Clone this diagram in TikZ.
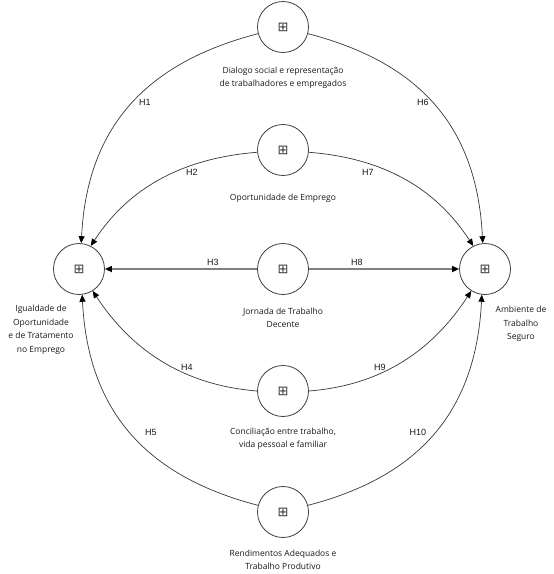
\documentclass[tikz,border=0pt]{standalone}
\usepackage{fontspec}
\setmainfont{Open Sans}
\newfontfamily\symfont{DejaVu Sans}
\newfontfamily\hfont{Liberation Sans}
\usetikzlibrary{arrows.meta}
\begin{document}
\begin{tikzpicture}[x=1pt,y=-1pt,
  construct/.style={circle, draw=black!75, line width=0.8pt, minimum size=51pt, inner sep=0pt,
    font=\symfont\fontsize{13}{13}\selectfont, text=black!80},
  lbl/.style={font=\fontsize{8.5}{13.5}\selectfont, align=center, text=black!90},
  hyp/.style={font=\hfont\fontsize{9}{10}\selectfont, text=black!90, inner sep=0pt},
  arr/.style={draw=black!78, line width=0.7pt, -{Triangle[length=7pt,width=6pt,color=black]}},
  straightarr/.style={draw=black!50, line width=1.6pt, -{Triangle[length=7pt,width=6pt,color=black]}}
]
\useasboundingbox (0,0) rectangle (554,574);
\fill[white] (0,0) rectangle (554,574);

\node[construct] (n1) at (283,27) {⊞};
\node[construct] (n2) at (283,150) {⊞};
\node[construct] (n3) at (283,269) {⊞};
\node[construct] (n4) at (283,391) {⊞};
\node[construct] (n5) at (283,512) {⊞};
\node[construct] (L) at (79,269) {⊞};
\node[construct] (R) at (485,269) {⊞};

\node[lbl] (t1) at (283,78) {Dialogo social e representação\\de trabalhadores e empregados};
\node[lbl] (t2) at (283,198) {Oportunidade de Emprego};
\node[lbl] (t3) at (283,318) {Jornada de Trabalho\\Decente};
\node[lbl] (t4) at (283,439) {Conciliação entre trabalho,\\vida pessoal e familiar};
\node[lbl] (t5) at (283,560) {Rendimentos Adequados e\\Trabalho Produtivo};
\node[lbl] (tl) at (41,330) {Igualdade de\\Oportunidade\\e de Tratamento\\no Emprego};
\node[lbl] (tr) at (521,324) {Ambiente de\\Trabalho\\Seguro};

\draw[arr] (n1.195) .. controls +(-108,28) and +(6,-120) .. (L.85);
\draw[arr] (n2.185) .. controls +(-75,6) and +(38,-58) .. (L.63);
\draw[straightarr] (n3.west) -- (L.east);
\draw[arr] (n4.180) .. controls +(-75,-6) and +(38,58) .. (L.302);
\draw[arr] (n5.165) .. controls +(-108,-28) and +(6,120) .. (L.277);
\draw[arr] (n1.345) .. controls +(108,28) and +(-6,-120) .. (R.95);
\draw[arr] (n2.355) .. controls +(75,6) and +(-38,-58) .. (R.117);
\draw[straightarr] (n3.east) -- (R.west);
\draw[arr] (n4.0) .. controls +(75,-6) and +(-38,58) .. (R.238);
\draw[arr] (n5.15) .. controls +(108,-28) and +(-6,120) .. (R.263);

\node[hyp] (h1) at (145,102) {H1};
\node[hyp] (h2) at (192,172) {H2};
\node[hyp] (h3) at (213,262) {H3};
\node[hyp] (h4) at (187,367) {H4};
\node[hyp] (h5) at (151,432) {H5};
\node[hyp] (h6) at (423,102) {H6};
\node[hyp] (h7) at (368,172) {H7};
\node[hyp] (h8) at (357,262) {H8};
\node[hyp] (h9) at (380,367) {H9};
\node[hyp] (h10) at (418,432) {H10};
\end{tikzpicture}
\end{document}
